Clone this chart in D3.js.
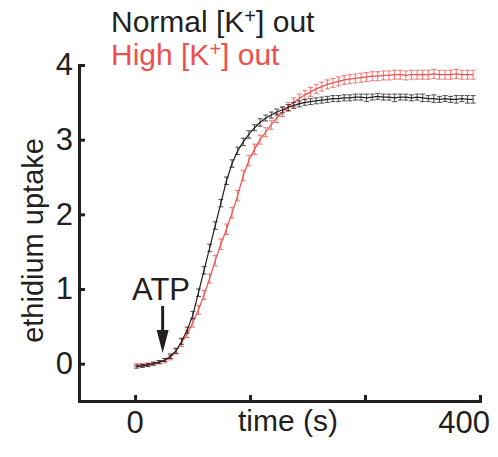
<!DOCTYPE html>
<html>
<head>
<meta charset="utf-8">
<script src="https://cdn.jsdelivr.net/npm/d3@7"></script>
<style>
  body { margin: 0; background: #fff; }
  text { font-family: "Liberation Sans", Arial, Helvetica, sans-serif; }
</style>
</head>
<body>
<svg width="498" height="457"></svg>
<script>
// sample times (s)
const times = [2, 8.5, 15, 21.5, 28, 34.5, 41, 47.5, 54, 60.5, 67, 73.5, 80, 86.5, 93, 99.5, 106, 112.5, 119, 125.5,
    132, 138.5, 145, 151.5, 158, 164.5, 171, 177.5, 184, 190.5, 197, 203.5, 210, 216.5, 223, 229.5, 236, 242.5, 249, 255.5,
    262, 268.5, 275, 281.5, 288, 294.5, 301, 307.5, 314, 320.5, 327, 333.5, 340, 346.5, 353, 359.5, 366, 372.5, 379, 385.5, 392];

const normalK = [-0.04, -0.03, -0.02, 0.0, 0.02, 0.05, 0.1, 0.17, 0.3, 0.45, 0.65, 0.95, 1.25, 1.55, 1.85, 2.15, 2.45, 2.68, 2.85, 2.97,
    3.07, 3.16, 3.23, 3.29, 3.33, 3.37, 3.4, 3.43, 3.46, 3.48, 3.5, 3.51, 3.52, 3.53, 3.54, 3.55, 3.55, 3.56, 3.56, 3.57,
    3.57, 3.56, 3.57, 3.58, 3.57, 3.57, 3.56, 3.57, 3.57, 3.56, 3.57, 3.56, 3.55, 3.55, 3.54, 3.55, 3.54, 3.54, 3.55, 3.54, 3.54];
const normalErr = [0.02, 0.02, 0.02, 0.02, 0.02, 0.02, 0.03, 0.03, 0.04, 0.04, 0.05, 0.05, 0.05, 0.05, 0.05, 0.05, 0.05, 0.05, 0.05, 0.05,
    0.05, 0.04, 0.05, 0.04, 0.04, 0.04, 0.04, 0.04, 0.04, 0.04, 0.04, 0.04, 0.04, 0.04, 0.04, 0.04, 0.04, 0.04, 0.04, 0.04,
    0.04, 0.05, 0.04, 0.04, 0.04, 0.04, 0.05, 0.04, 0.04, 0.04, 0.04, 0.05, 0.04, 0.05, 0.04, 0.04, 0.04, 0.05, 0.04, 0.05, 0.05];

const highK = [-0.02, -0.02, -0.01, 0.0, 0.02, 0.04, 0.08, 0.17, 0.28, 0.4, 0.55, 0.72, 0.92, 1.14, 1.38, 1.6, 1.8, 2.02, 2.25, 2.52,
    2.72, 2.87, 3.0, 3.1, 3.2, 3.29, 3.37, 3.44, 3.5, 3.55, 3.6, 3.64, 3.68, 3.71, 3.74, 3.76, 3.78, 3.8, 3.81, 3.82,
    3.83, 3.84, 3.85, 3.85, 3.86, 3.86, 3.87, 3.87, 3.86, 3.87, 3.87, 3.87, 3.87, 3.88, 3.87, 3.87, 3.87, 3.88, 3.87, 3.87, 3.87];
const highErr = [0.02, 0.02, 0.02, 0.02, 0.02, 0.03, 0.03, 0.04, 0.05, 0.05, 0.06, 0.06, 0.06, 0.06, 0.07, 0.07, 0.07, 0.07, 0.07, 0.07,
    0.07, 0.07, 0.06, 0.06, 0.06, 0.06, 0.06, 0.06, 0.06, 0.06, 0.06, 0.06, 0.06, 0.06, 0.06, 0.06, 0.06, 0.06, 0.06, 0.06,
    0.06, 0.06, 0.06, 0.06, 0.06, 0.06, 0.06, 0.06, 0.06, 0.06, 0.06, 0.06, 0.06, 0.06, 0.06, 0.06, 0.06, 0.06, 0.06, 0.06, 0.06];

const xTicks = [0, 400 / 3, 800 / 3, 400];
const xTickLabels = ['0', '', '', '400'];
const yTicks = [0, 1, 2, 3, 4];
const atpTime = 32;

let black = '#231f20';
let red = '#f0504d';

let svg = d3.select('svg');

let x = d3.scaleLinear().domain([-65, 400]).range([79, 480]);
let y = d3.scaleLinear().domain([-0.5, 4]).range([401, 65]);

let series = [
    {name: 'high', values: highK, err: highErr, color: red},
    {name: 'normal', values: normalK, err: normalErr, color: black}
];

// axes
let yAxis = d3.axisLeft(y)
    .tickValues(yTicks)
    .tickFormat(d3.format('d'))
    .tickSizeInner(-6)
    .tickSizeOuter(0)
    .tickPadding(6);

let xAxis = d3.axisBottom(x)
    .tickValues(xTicks)
    .tickFormat('')
    .tickSizeInner(-6)
    .tickSizeOuter(0);

let gy = svg.append('g').attr('transform', 'translate(79,0)').call(yAxis);
let gx = svg.append('g').attr('transform', 'translate(0,401)').call(xAxis);

[gx, gy].forEach(function (g) {
    g.select('.domain').attr('stroke', black).attr('stroke-width', 3).attr('stroke-linecap', 'square');
    g.selectAll('.tick line').attr('stroke', black).attr('stroke-width', 3);
});
gy.selectAll('.tick text')
    .attr('fill', black)
    .style('font-size', '31px')
    .style('font-family', '"Liberation Sans", Arial, sans-serif');

svg.append('g')
    .selectAll('text')
    .data(xTicks.filter(function (d, i) { return xTickLabels[i] !== ''; }))
    .enter()
    .append('text')
    .attr('x', function (d) { return d === 400 ? 490 : x(d); })
    .attr('y', 433)
    .attr('text-anchor', function (d) { return d === 400 ? 'end' : 'middle'; })
    .attr('fill', black)
    .style('font-size', '31px')
    .text(function (d) { return xTickLabels[xTicks.indexOf(d)]; });

svg.append('text')
    .attr('x', 288)
    .attr('y', 431)
    .attr('text-anchor', 'middle')
    .attr('fill', black)
    .style('font-size', '30px')
    .text('time (s)');

svg.append('text')
    .attr('transform', 'translate(43,' + y(1.65) + ') rotate(-90)')
    .attr('text-anchor', 'middle')
    .attr('fill', black)
    .style('font-size', '29px')
    .text('ethidium uptake');

// lines + error bars
let line = d3.line()
    .x(function (d, i) { return x(times[i]); })
    .y(function (d) { return y(d); });

series.forEach(function (s) {
    let g = svg.append('g').attr('class', s.name);
    let bars = g.selectAll('g.bar')
        .data(s.values)
        .enter()
        .append('g')
        .attr('class', 'bar')
        .attr('stroke', s.color)
        .attr('stroke-width', 1)
        .attr('opacity', 0.8);
    bars.append('line')
        .attr('x1', function (d, i) { return x(times[i]); })
        .attr('x2', function (d, i) { return x(times[i]); })
        .attr('y1', function (d, i) { return y(d - s.err[i]); })
        .attr('y2', function (d, i) { return y(d + s.err[i]); });
    [-1, 1].forEach(function (sign) {
        bars.append('line')
            .attr('x1', function (d, i) { return x(times[i]) - 2.5; })
            .attr('x2', function (d, i) { return x(times[i]) + 2.5; })
            .attr('y1', function (d, i) { return y(d + sign * s.err[i]); })
            .attr('y2', function (d, i) { return y(d + sign * s.err[i]); });
    });
    g.append('path')
        .datum(s.values)
        .attr('fill', 'none')
        .attr('stroke', s.color)
        .attr('stroke-width', 1.2)
        .attr('d', line);
});

// ATP arrow
let ax = x(atpTime);
svg.append('line')
    .attr('x1', ax).attr('x2', ax)
    .attr('y1', 306).attr('y2', 334)
    .attr('stroke', black)
    .attr('stroke-width', 3);
svg.append('path')
    .attr('d', 'M' + (ax - 6) + ',330 L' + (ax + 6) + ',330 L' + ax + ',353 Z')
    .attr('fill', black);
svg.append('text')
    .attr('x', 132)
    .attr('y', 300)
    .attr('fill', black)
    .style('font-size', '31px')
    .text('ATP');

// legend
let legend = [
    {label: 'Normal [K', color: black, y: 32},
    {label: 'High [K', color: red, y: 65}
];
legend.forEach(function (l) {
    let t = svg.append('text')
        .attr('x', 111)
        .attr('y', l.y)
        .attr('fill', l.color)
        .style('font-size', '30px');
    t.append('tspan').text(l.label);
    t.append('tspan').attr('dy', -9).style('font-size', '20px').text('+');
    t.append('tspan').attr('dy', 9).text('] out');
});
</script>
</body>
</html>
